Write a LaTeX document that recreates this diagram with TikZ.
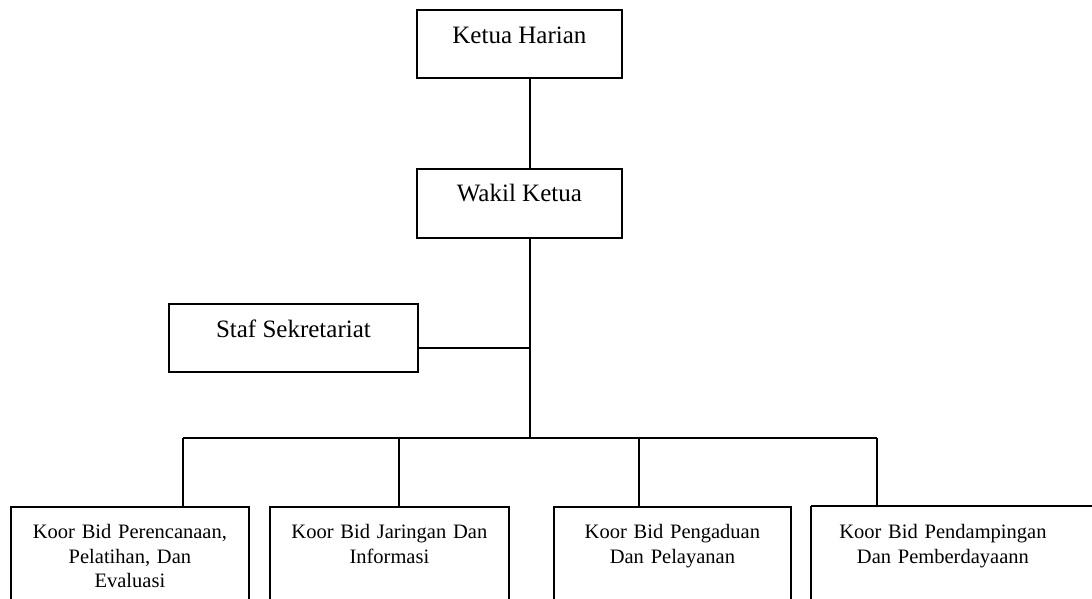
\documentclass[tikz,border=0pt]{standalone}
\usepackage{fontspec}
\setmainfont{Liberation Serif}
\usetikzlibrary{positioning}

\begin{document}
\begin{tikzpicture}[x=1pt, y=-1pt, line width=1.8pt, every node/.style={align=center},
    topbox/.style={draw, anchor=north west, inner sep=0pt, text height=34pt, text depth=34pt, font=\fontsize{25}{29}\selectfont},
    koorbox/.style={draw, anchor=north west, inner sep=0pt, text height=32pt, text depth=200pt, font=\fontsize{20.5}{24.5}\selectfont}]
      \clip (0,0) rectangle (1092,599);
      % pimpinan
      \node[topbox, minimum width=205pt] (ketua) at (416,9) {Ketua Harian};
      \node[topbox, minimum width=205pt, text height=33pt, text depth=36pt] (wakil) at (416,168) {Wakil Ketua};
      \node[topbox, minimum width=249pt] (staf) at (168,303) {Staf Sekretariat};
      % koordinator bidang
      \node[koorbox, text width=238pt] (koor1) at (10,506) {Koor Bid Perencanaan,\\Pelatihan, Dan\\Evaluasi};
      \node[koorbox, text width=239pt] (koor2) at (269,506) {Koor Bid Jaringan Dan\\Informasi};
      \node[koorbox, text width=237pt] (koor3) at (553,506) {Koor Bid Pengaduan\\Dan Pelayanan};
      \node[koorbox, draw=none, text width=262pt] (koor4) at (811,506) {Koor Bid Pendampingan\\Dan Pemberdayaann};
      \draw (koor4.north west) -- ++(300,0) (koor4.north west) -- ++(0,120);
      % garis
      \coordinate (stafjoin) at (530,348);
      \coordinate (bus) at (530,438);
      \draw (ketua.south -| bus) -- (wakil.north -| bus);
      \draw (wakil.south -| bus) -- (bus);
      \draw (staf.east |- stafjoin) -- (stafjoin);
      \draw (183,438) -- (877,438);
      \foreach \x/\b in {183/koor1, 399/koor2, 639/koor3, 877/koor4}
        \draw (\x,438) -- (\b.north -| \x,0);
    \end{tikzpicture}
\end{document}
